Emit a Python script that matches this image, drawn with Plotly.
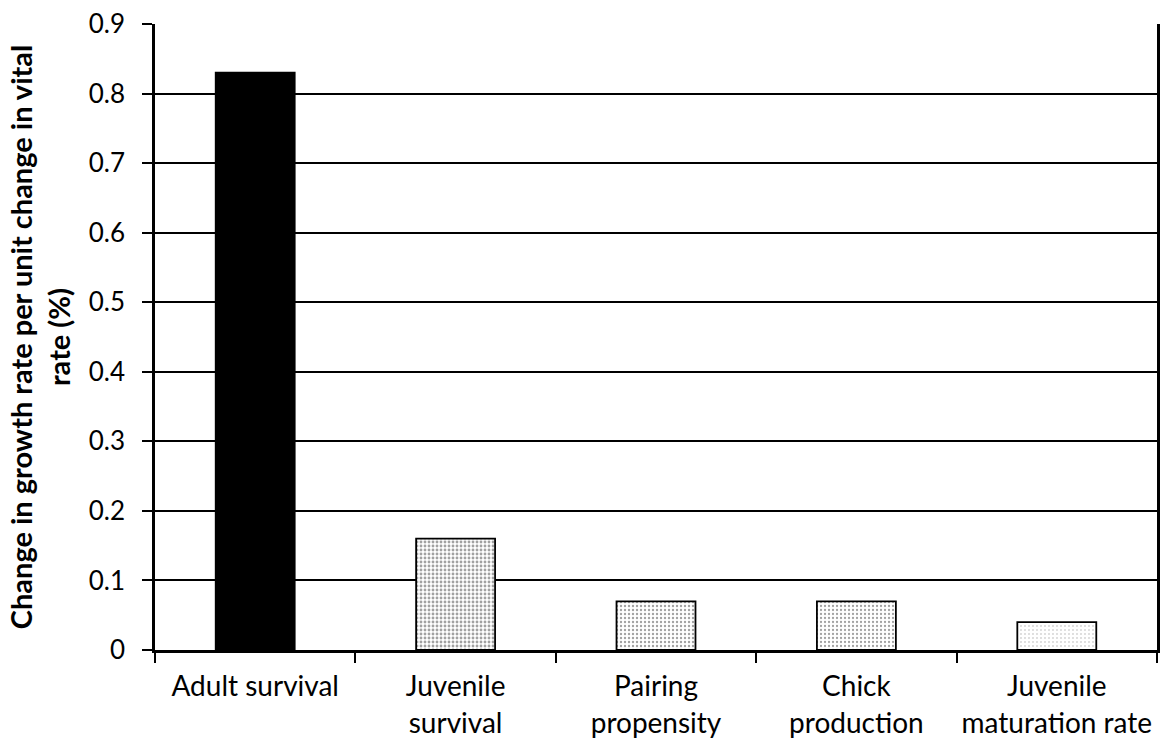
import plotly.graph_objects as go

# Sensitivity of population growth rate to each vital rate
categories = ["Adult survival", "Juvenile<br>survival", "Pairing<br>propensity",
              "Chick<br>production", "Juvenile<br>maturation rate"]
sensitivity = [0.83, 0.16, 0.07, 0.07, 0.04]

# Bar styling: first bar solid black, the rest stippled grey in an outlined box
bar_colors = ["black", "white", "white", "white", "white"]
pattern_shapes = ["", ".", ".", ".", "."]
pattern_fg = ["black", "#444444", "#777777", "#777777", "#bbbbbb"]
pattern_solidity = [0.2, 0.4, 0.28, 0.25, 0.08]

font_family = "Lato, Carlito, 'Open Sans', sans-serif"

fig = go.Figure(
    go.Bar(
        x=categories,
        y=sensitivity,
        marker=dict(
            color=bar_colors,
            line=dict(color="black", width=1.8),
            pattern=dict(
                shape=pattern_shapes,
                fgcolor=pattern_fg,
                bgcolor="white",
                size=4,
                solidity=pattern_solidity,
                fillmode="overlay",
            ),
        ),
        hoverinfo="skip",
    )
)

fig.update_layout(
    width=1165,
    height=744,
    margin=dict(l=155, r=8, t=24, b=94),
    paper_bgcolor="white",
    plot_bgcolor="white",
    bargap=0.606,
    showlegend=False,
    font=dict(family=font_family, size=26, color="black"),
)

fig.update_yaxes(
    range=[0, 0.9],
    dtick=0.1,
    showgrid=True,
    gridcolor="black",
    gridwidth=2,
    showline=True,
    linecolor="black",
    linewidth=2.5,
    mirror=True,
    ticks="outside",
    ticklen=10,
    tickwidth=2,
    tickcolor="black",
    tickfont=dict(size=26),
    ticklabelstandoff=12,
    zeroline=False,
    automargin=False,
    title=dict(
        text="<b>Change in growth rate per unit change in vital<br>rate (%)</b>",
        font=dict(size=29),
        standoff=10,
    ),
)

fig.update_xaxes(
    type="category",
    tickson="boundaries",
    tickangle=0,
    automargin=False,
    showline=True,
    linecolor="black",
    linewidth=2.5,
    ticks="outside",
    ticklen=10,
    tickwidth=2,
    tickcolor="black",
    tickfont=dict(size=28),
    ticklabelstandoff=10,
    showgrid=False,
)

fig.write_html("out.html")
